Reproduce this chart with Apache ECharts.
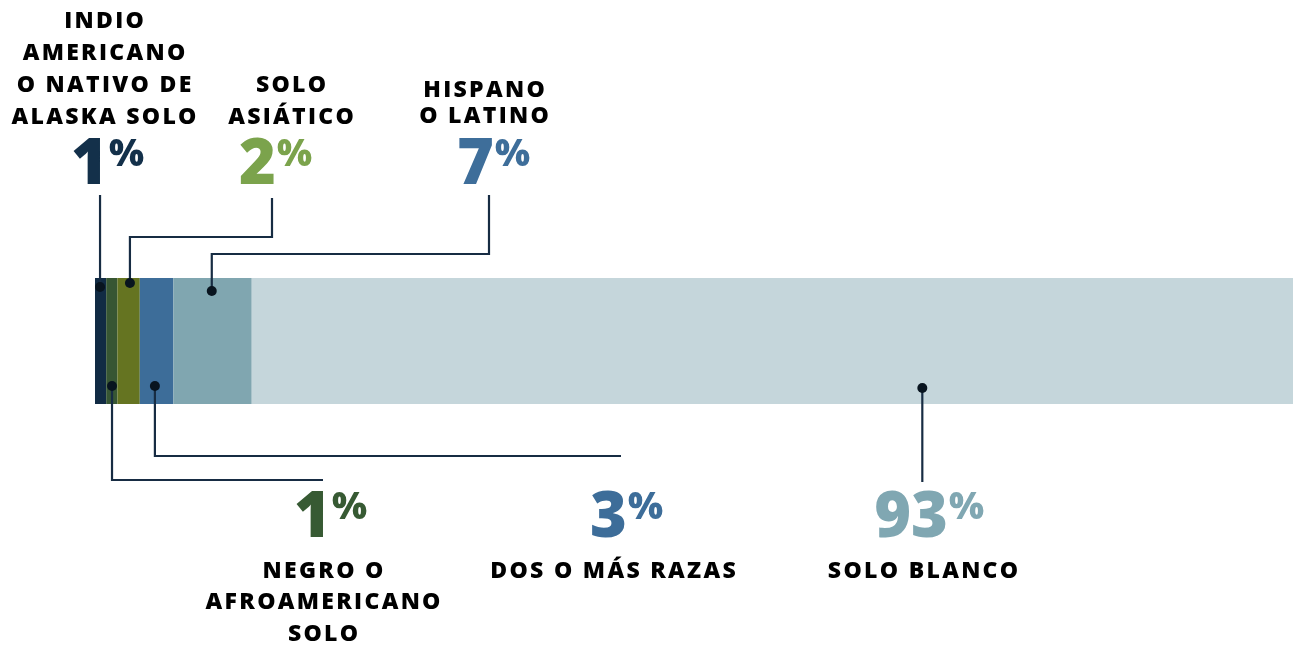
<!DOCTYPE html>
<html>
<head>
<meta charset="utf-8">
<script src="https://cdn.jsdelivr.net/npm/echarts@6/dist/echarts.min.js"></script>
<style>
html, body { margin: 0; padding: 0; background: #fff; }
#myChart { width: 1293px; height: 649px; }
</style>
</head>
<body>
<div id="myChart"></div>
<script>
// groups in the order they appear in the bar, left to right
const groups = ['INDIO\nAMERICANO\nO NATIVO DE\nALASKA SOLO', 'NEGRO O\nAFROAMERICANO\nSOLO', 'SOLO\nASIÁTICO', 'DOS O MÁS RAZAS', 'HISPANO\nO LATINO', 'SOLO BLANCO'];
const shares = [1, 1, 2, 3, 7, 93];
const barColors = ['#112b44', '#375633', '#657421', '#3d6d99', '#80a6b0', '#c5d6db'];
const numColors = ['#13304a', '#375a33', '#7ba34c', '#3d6d99', '#3e6e9a', '#80a7b2'];

// callout layout (pixels), one per group
const gridTop = 278, barH = 126;
const callouts = [
  { side: 'top', frac: 0.45, dy: 9, elbow: null, end: [null, 195], label: [104, 20], lh: 32, num: [108, 166] },
  { side: 'bottom', frac: 0.52, dy: -18, elbow: 480, end: [323, 480], label: [323, 570], lh: 31.5, num: [331, 519] },
  { side: 'top', frac: 0.56, dy: 5, elbow: 237, end: [272, 198], label: [291, 84], lh: 32, num: [276, 166] },
  { side: 'bottom', frac: 0.45, dy: -18, elbow: 456, end: [621, 456], label: [613, 570], lh: 32, num: [627, 519] },
  { side: 'top', frac: 0.49, dy: 13, elbow: 254, end: [489, 195], label: [484, 89], lh: 26, num: [494, 166] },
  { side: 'bottom', frac: 0.644, dy: -16, elbow: null, end: [null, 482], label: [923, 570], lh: 32, num: [948, 519] }
];

const font = '"Open Sans", "Noto Sans", sans-serif';
function spaced(s) {
  return s.split('\n').map(l => l.split('').join('\u200A')).join('\n');
}

let myChart = echarts.init(document.getElementById('myChart'));
myChart.setOption({
  animation: false,
  grid: { left: 95, right: 0, top: gridTop, height: barH },
  xAxis: { type: 'value', min: 0, max: shares.reduce((a, b) => a + b, 0), show: false },
  yAxis: { type: 'category', data: ['total'], show: false },
  series: shares.map((v, i) => ({
    name: groups[i],
    type: 'bar',
    stack: 'all',
    barWidth: barH,
    data: [v],
    itemStyle: { color: barColors[i] }
  }))
});

// leader lines, dots and labels placed from the bar's own scale
let graphics = [];
let start = 0;
shares.forEach((v, i) => {
  const c = callouts[i];
  const dx = myChart.convertToPixel({ xAxisIndex: 0 }, start + v * c.frac);
  start += v;
  const dy = c.side === 'top' ? gridTop + c.dy : gridTop + barH + c.dy;
  const ex = c.end[0] == null ? dx : c.end[0];
  let pts = [[dx, dy]];
  if (c.elbow != null) pts.push([dx, c.elbow], [ex, c.elbow]);
  pts.push([ex, c.end[1]]);
  graphics.push({
    type: 'polyline', z: 10, shape: { points: pts },
    style: { stroke: '#172c43', lineWidth: 2.2, fill: null }
  });
  graphics.push({
    type: 'circle', z: 11, shape: { cx: dx, cy: dy, r: 5 },
    style: { fill: '#08141f' }
  });
  graphics.push({
    type: 'text', z: 10, x: c.label[0], y: c.label[1] - c.lh / 2 + 1,
    style: {
      text: spaced(groups[i]), fill: '#000', fontFamily: font, fontWeight: 800,
      fontSize: 23, lineHeight: c.lh, align: 'center', verticalAlign: 'top'
    }
  });
  graphics.push({
    type: 'text', z: 10, x: c.num[0], y: c.num[1],
    style: {
      text: String(v), fill: numColors[i], fontFamily: font, fontWeight: 800,
      fontSize: 63, align: 'right', verticalAlign: 'middle'
    }
  });
  graphics.push({
    type: 'text', z: 10, x: c.num[0] + 1, y: c.num[1] - 11,
    style: {
      text: '%', fill: numColors[i], fontFamily: font, fontWeight: 800,
      fontSize: 37, align: 'left', verticalAlign: 'middle'
    }
  });
});
myChart.setOption({ graphic: graphics });
</script>
</body>
</html>
